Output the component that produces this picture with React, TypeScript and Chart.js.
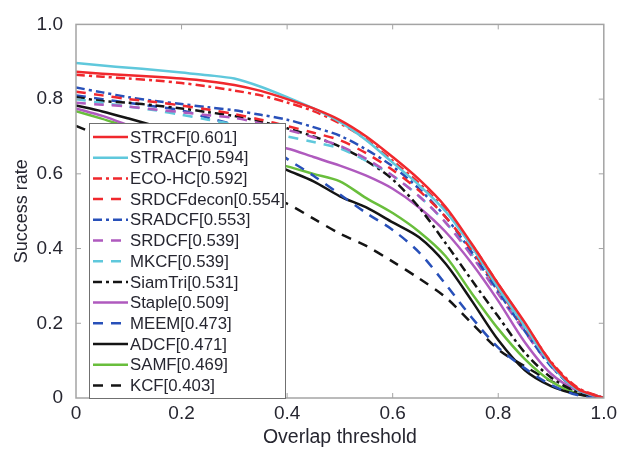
import { useEffect, useRef } from 'react';
import { Chart, registerables } from 'chart.js';

Chart.register(...registerables);

const thresholds = [0, 0.05, 0.1, 0.15, 0.2, 0.25, 0.3, 0.35, 0.4, 0.45, 0.5, 0.55, 0.6, 0.65, 0.7, 0.75, 0.8, 0.85, 0.9, 0.95, 1.0];

const STRCF = [0.873, 0.868, 0.864, 0.86, 0.855, 0.848, 0.838, 0.822, 0.8, 0.775, 0.744, 0.7, 0.645, 0.585, 0.512, 0.412, 0.305, 0.203, 0.095, 0.025, 0];
const STRACF = [0.897, 0.89, 0.884, 0.878, 0.871, 0.864, 0.855, 0.833, 0.805, 0.775, 0.739, 0.69, 0.63, 0.57, 0.5, 0.405, 0.295, 0.193, 0.09, 0.022, 0];
const ECOHC = [0.865, 0.86, 0.855, 0.85, 0.843, 0.834, 0.823, 0.81, 0.791, 0.768, 0.735, 0.692, 0.635, 0.575, 0.503, 0.41, 0.305, 0.2, 0.097, 0.028, 0];
const SRDCFdecon = [0.82, 0.81, 0.8, 0.792, 0.783, 0.772, 0.76, 0.745, 0.728, 0.71, 0.69, 0.655, 0.61, 0.555, 0.485, 0.395, 0.292, 0.19, 0.093, 0.025, 0];
const SRADCF = [0.831, 0.818, 0.805, 0.795, 0.787, 0.778, 0.77, 0.758, 0.745, 0.725, 0.702, 0.665, 0.62, 0.56, 0.485, 0.39, 0.285, 0.18, 0.085, 0.022, 0];
const SRDCF = [0.79, 0.785, 0.78, 0.772, 0.765, 0.757, 0.75, 0.735, 0.718, 0.698, 0.675, 0.64, 0.595, 0.54, 0.47, 0.38, 0.278, 0.178, 0.085, 0.022, 0];
const MKCF = [0.8, 0.79, 0.78, 0.77, 0.758, 0.745, 0.732, 0.715, 0.7, 0.685, 0.668, 0.635, 0.595, 0.54, 0.47, 0.385, 0.285, 0.185, 0.09, 0.025, 0];
const SiamTri = [0.805, 0.795, 0.79, 0.783, 0.775, 0.765, 0.755, 0.74, 0.722, 0.7, 0.673, 0.635, 0.585, 0.51, 0.415, 0.315, 0.218, 0.122, 0.055, 0.016, 0];
const Staple = [0.775, 0.755, 0.73, 0.71, 0.7, 0.692, 0.685, 0.677, 0.668, 0.645, 0.622, 0.595, 0.56, 0.51, 0.445, 0.36, 0.26, 0.15, 0.065, 0.02, 0];
const MEEM = [0.81, 0.8, 0.79, 0.78, 0.77, 0.75, 0.73, 0.69, 0.64, 0.595, 0.545, 0.495, 0.45, 0.39, 0.305, 0.215, 0.135, 0.08, 0.035, 0.008, 0];
const ADCF = [0.783, 0.767, 0.748, 0.728, 0.708, 0.69, 0.67, 0.642, 0.61, 0.58, 0.54, 0.51, 0.47, 0.43, 0.36, 0.26, 0.155, 0.075, 0.032, 0.01, 0];
const SAMF = [0.768, 0.747, 0.725, 0.705, 0.688, 0.672, 0.655, 0.638, 0.62, 0.6, 0.58, 0.535, 0.495, 0.445, 0.38, 0.28, 0.185, 0.105, 0.045, 0.012, 0];
const KCF = [0.728, 0.7, 0.672, 0.645, 0.62, 0.595, 0.57, 0.545, 0.52, 0.48, 0.44, 0.407, 0.365, 0.32, 0.27, 0.2, 0.13, 0.085, 0.045, 0.015, 0];

const trackerNames = ['STRCF', 'STRACF', 'ECO-HC', 'SRDCFdecon', 'SRADCF', 'SRDCF', 'MKCF', 'SiamTri', 'Staple', 'MEEM', 'ADCF', 'SAMF', 'KCF'];
const aucScores = ['0.601', '0.594', '0.592', '0.554', '0.553', '0.539', '0.539', '0.531', '0.509', '0.473', '0.471', '0.469', '0.403'];
const seriesValues = [STRCF, STRACF, ECOHC, SRDCFdecon, SRADCF, SRDCF, MKCF, SiamTri, Staple, MEEM, ADCF, SAMF, KCF];

const axisTicks = [0, 0.2, 0.4, 0.6, 0.8, 1.0];

const RED = 'rgb(240,40,45)';
const CYAN = 'rgb(95,200,220)';
const BLUE = 'rgb(40,80,185)';
const PURPLE = 'rgb(175,90,190)';
const BLACK = 'rgb(20,20,20)';
const GREEN = 'rgb(105,190,60)';
const SOLID: number[] = [];
const DASH = [10, 8];
const DASHDOT = [9, 4, 3, 4];

const styles = [
  { color: RED, dash: SOLID },
  { color: CYAN, dash: SOLID },
  { color: RED, dash: DASHDOT },
  { color: RED, dash: DASH },
  { color: BLUE, dash: DASHDOT },
  { color: PURPLE, dash: DASH },
  { color: CYAN, dash: DASH },
  { color: BLACK, dash: DASHDOT },
  { color: PURPLE, dash: SOLID },
  { color: BLUE, dash: DASH },
  { color: BLACK, dash: SOLID },
  { color: GREEN, dash: SOLID },
  { color: BLACK, dash: DASH },
];

const FONT = '"Liberation Sans", Arial, sans-serif';
const TEXT = '#262630';

const fmt = (v: number) => (v === 0 ? '0' : v.toFixed(1));

const framePlugin = {
  id: 'frame',
  afterDatasetsDraw(chart: any) {
    const { ctx, chartArea } = chart;
    const { left, right, top, bottom } = chartArea;
    const xs = chart.scales.x;
    const ys = chart.scales.y;
    ctx.save();
    ctx.strokeStyle = '#a4a4a4';
    ctx.lineWidth = 1.5;
    ctx.setLineDash([]);
    ctx.strokeRect(left, top, right - left, bottom - top);
    ctx.lineWidth = 1;
    ctx.beginPath();
    axisTicks.forEach((t) => {
      if (t === 0 || t === 1) return;
      const px = xs.getPixelForValue(t);
      ctx.moveTo(px, bottom);
      ctx.lineTo(px, bottom - 5);
      ctx.moveTo(px, top);
      ctx.lineTo(px, top + 5);
      const py = ys.getPixelForValue(t);
      ctx.moveTo(left, py);
      ctx.lineTo(left + 5, py);
      ctx.moveTo(right, py);
      ctx.lineTo(right - 5, py);
    });
    ctx.stroke();
    ctx.restore();
  },
};

const legendPlugin = {
  id: 'boxLegend',
  afterDatasetsDraw(chart: any) {
    const { ctx, chartArea } = chart;
    const x0 = chartArea.left + 13;
    const y0 = 123;
    const x1 = 285;
    const y1 = chartArea.bottom;
    ctx.save();
    ctx.fillStyle = '#ffffff';
    ctx.fillRect(x0, y0, x1 - x0, y1 - y0);
    ctx.strokeStyle = '#707070';
    ctx.lineWidth = 1;
    ctx.setLineDash([]);
    ctx.strokeRect(x0 + 0.5, y0 + 0.5, x1 - x0, y1 - y0);
    chart.data.datasets.forEach((ds: any, i: number) => {
      const y = 137 + i * 20.7;
      ctx.strokeStyle = ds.borderColor;
      ctx.lineWidth = ds.borderWidth;
      ctx.setLineDash(ds.borderDash || []);
      ctx.beginPath();
      ctx.moveTo(93, y);
      ctx.lineTo(128, y);
      ctx.stroke();
      ctx.setLineDash([]);
      ctx.fillStyle = TEXT;
      ctx.font = `16.8px ${FONT}`;
      ctx.textBaseline = 'middle';
      ctx.textAlign = 'left';
      ctx.fillText(ds.label, 130, y + 1);
    });
    ctx.restore();
  },
};

export default function App() {
  const canvasRef = useRef<HTMLCanvasElement | null>(null);

  useEffect(() => {
    if (!canvasRef.current) return;
    const datasets = trackerNames.map((name, i) => ({
      label: `${name}[${aucScores[i]}]`,
      data: thresholds.map((t, j) => ({ x: t, y: seriesValues[i][j] })),
      borderColor: styles[i].color,
      backgroundColor: styles[i].color,
      borderDash: styles[i].dash,
      borderWidth: 2.5,
      pointRadius: 0,
      tension: 0.3,
      fill: false,
    }));

    const chart = new Chart(canvasRef.current, {
      type: 'line',
      data: { datasets },
      options: {
        animation: false,
        responsive: false,
        maintainAspectRatio: false,
        layout: { padding: { top: 19, right: 13, left: 0, bottom: 0 } },
        plugins: { legend: { display: false }, tooltip: { enabled: false } },
        scales: {
          x: {
            type: 'linear',
            min: 0,
            max: 1,
            afterFit: (s: any) => { s.height = 53; },
            afterBuildTicks: (s: any) => { s.ticks = axisTicks.map((v) => ({ value: v })); },
            grid: { display: false, drawTicks: false },
            border: { display: false },
            ticks: { callback: (v: any) => fmt(Number(v)), font: { family: FONT, size: 19 }, color: TEXT, padding: 4, maxRotation: 0 },
            title: { display: true, text: 'Overlap threshold', font: { family: FONT, size: 19.5 }, color: TEXT, padding: { top: 0, bottom: 2 } },
          },
          y: {
            type: 'linear',
            min: 0,
            max: 1,
            afterFit: (s: any) => { s.width = 76; },
            afterBuildTicks: (s: any) => { s.ticks = axisTicks.map((v) => ({ value: v })); },
            grid: { display: false, drawTicks: false },
            border: { display: false },
            ticks: { callback: (v: any) => fmt(Number(v)), font: { family: FONT, size: 19 }, color: TEXT, padding: 13 },
            title: { display: true, text: 'Success rate', font: { family: FONT, size: 18 }, color: TEXT, padding: { top: 11, bottom: 0 } },
          },
        },
      },
      plugins: [framePlugin, legendPlugin],
    });
    return () => chart.destroy();
  }, []);

  return (
    <div style={{ position: 'fixed', left: 0, top: 0, width: 621, height: 451, background: '#fff' }}>
      <canvas ref={canvasRef} width={621} height={451} style={{ width: 621, height: 451, display: 'block' }} />
    </div>
  );
}
